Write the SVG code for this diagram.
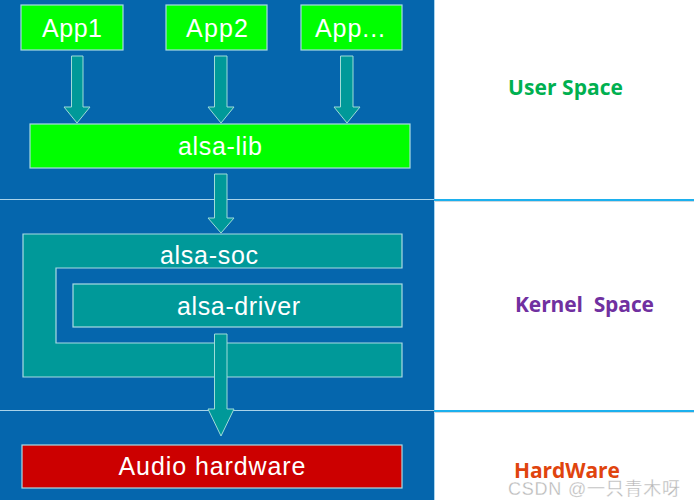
<svg xmlns="http://www.w3.org/2000/svg" width="694" height="504" viewBox="0 0 694 504">
<style>
.box{stroke:#a9dbe3;stroke-width:1.2}
.g{fill:#00ff00}
.t{fill:#009999}
.r{fill:#cc0000}
.lbl{font-family:"Liberation Sans",Arial,sans-serif;font-size:25px;fill:#ffffff;text-anchor:middle}
.arr{fill:#009999;stroke:#9fdcd8;stroke-width:1}
.side{font-family:"Open Sans","Noto Sans",sans-serif;font-weight:bold;font-size:21px}
</style>
<rect x="0" y="0" width="694" height="504" fill="#ffffff"/>
<rect x="0" y="0" width="434" height="500" fill="#0566ad"/>
<line x1="434.5" y1="0" x2="434.5" y2="500" stroke="#a8d4ee" stroke-width="1"/>
<g id="dividers">
<line x1="0" y1="199.5" x2="434" y2="199.5" stroke="#a9d3ea" stroke-width="1.2"/>
<line x1="434" y1="200" x2="694" y2="200" stroke="#1cb0ee" stroke-width="2"/>
<line x1="434" y1="201.5" x2="694" y2="201.5" stroke="#cfd8de" stroke-width="1"/>
<line x1="0" y1="410.5" x2="434" y2="410.5" stroke="#a9d3ea" stroke-width="1.2"/>
<line x1="434" y1="411" x2="694" y2="411" stroke="#1cb0ee" stroke-width="2"/>
<line x1="434" y1="412.5" x2="694" y2="412.5" stroke="#cfd8de" stroke-width="1"/>
</g>
<g id="connectors">
<path class="arr" d="M71.5,56 H83 V107 H90 L77,123 L64,107 H71.5 Z"/>
<path class="arr" d="M214.5,56 H227 V107 H234 L221,123 L208,107 H214.5 Z"/>
<path class="arr" d="M340.5,56 H353 V107 H360 L347,123 L334,107 H340.5 Z"/>
<path class="arr" d="M214.5,174 H227 V218 H234 L221,233 L208,218 H214.5 Z"/>
</g>
<g id="app1"><rect class="box g" x="21" y="5" width="102" height="45"/><text class="lbl" x="72" y="37" textLength="60">App1</text></g>
<g id="app2"><rect class="box g" x="166" y="5" width="101" height="45"/><text class="lbl" x="217" y="37" textLength="62">App2</text></g>
<g id="app3"><rect class="box g" x="301" y="5" width="101" height="45"/><text class="lbl" x="350" y="37" textLength="70">App...</text></g>
<g id="alsa-lib"><rect class="box g" x="30" y="124" width="380" height="44"/><text class="lbl" x="220" y="155" textLength="84">alsa-lib</text></g>
<g id="alsa-soc"><path class="box t" d="M23,234 H402 V268 H56 V343 H402 V377 H23 Z"/><text class="lbl" x="209" y="264" textLength="98">alsa-soc</text></g>
<g id="alsa-driver"><rect class="box t" x="73" y="284" width="329" height="43"/><text class="lbl" x="238.5" y="315" textLength="123">alsa-driver</text></g>
<g id="connector-hw"><path class="arr" d="M214.5,334 H227 V409 H234 L221,436 L208,409 H214.5 Z"/></g>
<g id="audio-hw"><rect class="box r" x="22" y="445" width="380" height="43"/><text class="lbl" x="212" y="475" textLength="187">Audio hardware</text></g>
<g id="labels">
<text class="side" x="508" y="95" fill="#00b050" textLength="115">User Space</text>
<text class="side" x="515" y="312" fill="#7030a0" textLength="139" xml:space="preserve">Kernel  Space</text>
<text class="side" x="514" y="478" fill="#e0440e" textLength="106">HardWare</text>
</g>
<text x="508" y="495" font-family="'Liberation Sans','Noto Sans CJK SC',sans-serif" font-size="18" fill="#b8b8b8" stroke="#ffffff" stroke-width="0.3" textLength="172">CSDN @一只青木呀</text>
</svg>
